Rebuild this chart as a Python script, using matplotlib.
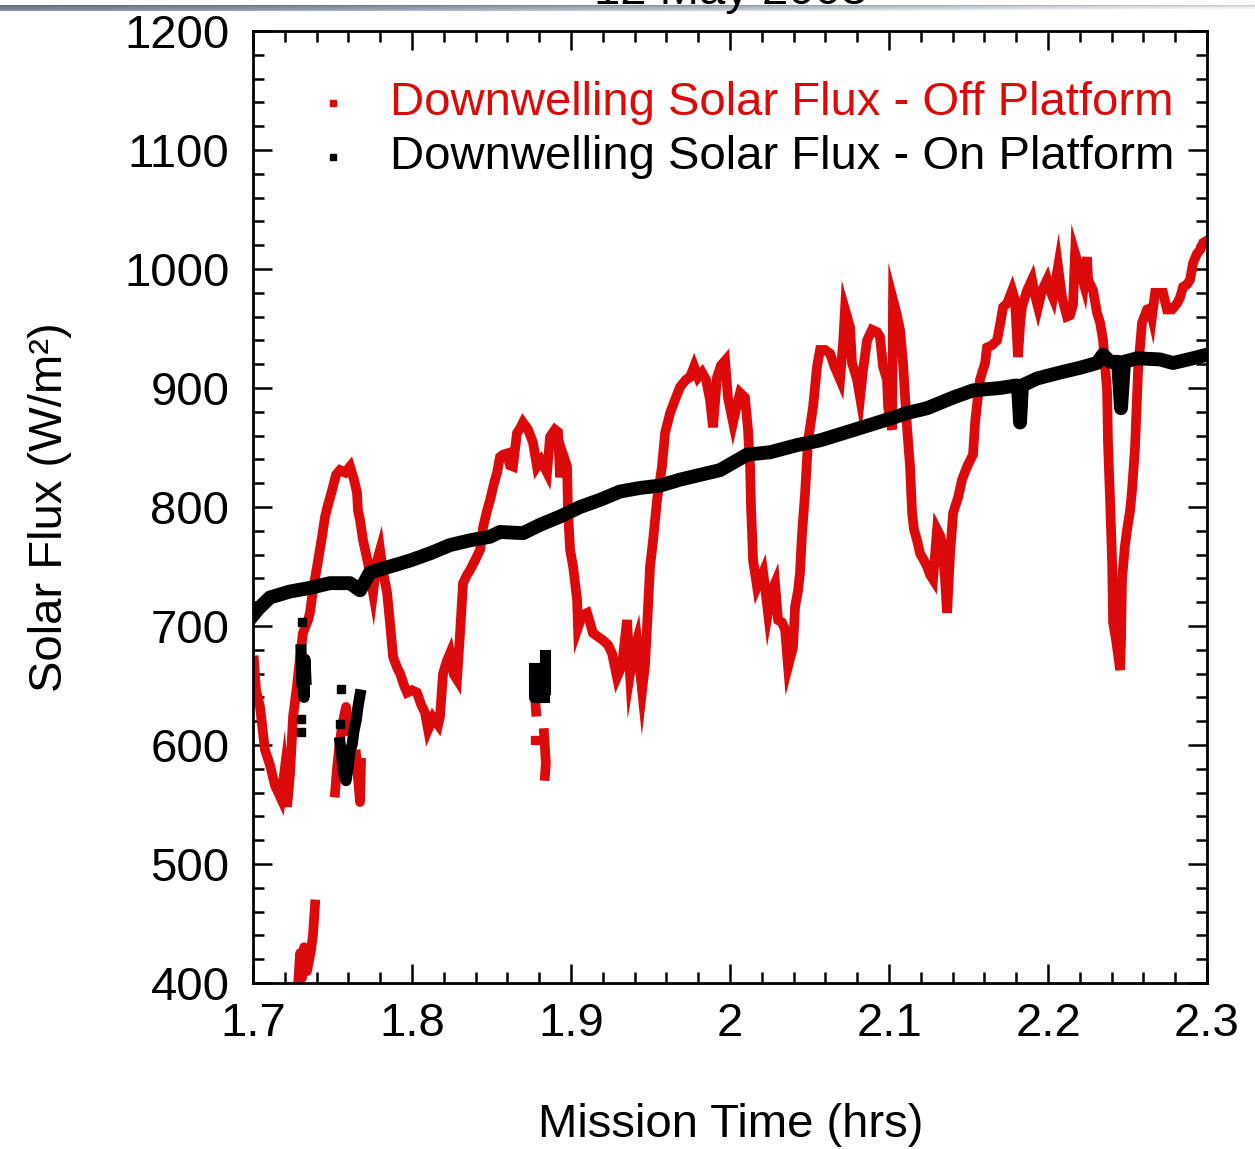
import numpy as np
import matplotlib
matplotlib.use("Agg")
import matplotlib.pyplot as plt
from matplotlib.ticker import MultipleLocator

plt.rcParams['font.family'] = ['Liberation Sans', 'DejaVu Sans']

# downwelling solar flux measured off the platform (W/m^2) vs mission time (hrs)
off_time = [1.7006, 1.7019, 1.7044, 1.7075, 1.7107, 1.7138, 1.7176, 1.7195, 1.7214, 1.7233,
            1.7252, 1.7277, 1.7296, 1.7314, 1.7346, 1.7358, 1.7377, 1.7403, 1.7434, 1.7453,
            1.7472, 1.7497, 1.7522, 1.7547, 1.7579, 1.7610, 1.7635, 1.7654, 1.7660, 1.7673,
            1.7692, 1.7723, 1.7755, 1.7780, 1.7799, 1.7818, 1.7843, 1.7862, 1.7881, 1.7906,
            1.7925, 1.7950, 1.7969, 1.8000, 1.8031, 1.8057, 1.8082, 1.8101, 1.8132, 1.8164,
            1.8176, 1.8195, 1.8220, 1.8239, 1.8264, 1.8283, 1.8302, 1.8321, 1.8346, 1.8365,
            1.8396, 1.8428, 1.8447, 1.8472, 1.8491, 1.8516, 1.8535, 1.8553, 1.8572, 1.8597,
            1.8616, 1.8635, 1.8660, 1.8679, 1.8698, 1.8730, 1.8761, 1.8786, 1.8811, 1.8849,
            1.8868, 1.8899, 1.8918, 1.8931, 1.8950, 1.8975, 1.8981, 1.8994, 1.9013, 1.9038,
            1.9044, 1.9069, 1.9101, 1.9138, 1.9170, 1.9201, 1.9233, 1.9258, 1.9289, 1.9321,
            1.9352, 1.9371, 1.9390, 1.9415, 1.9447, 1.9465, 1.9478, 1.9497, 1.9516, 1.9541,
            1.9572, 1.9591, 1.9623, 1.9654, 1.9686, 1.9723, 1.9748, 1.9774, 1.9799, 1.9824,
            1.9849, 1.9874, 1.9893, 1.9918, 1.9943, 1.9969, 1.9987, 2.0019, 2.0044, 2.0063,
            2.0094, 2.0113, 2.0126, 2.0132, 2.0145, 2.0170, 2.0189, 2.0208, 2.0226, 2.0239,
            2.0264, 2.0283, 2.0302, 2.0327, 2.0346, 2.0365, 2.0384, 2.0396, 2.0409, 2.0428,
            2.0440, 2.0453, 2.0472, 2.0491, 2.0503, 2.0522, 2.0547, 2.0566, 2.0597, 2.0629,
            2.0654, 2.0673, 2.0692, 2.0711, 2.0723, 2.0742, 2.0755, 2.0767, 2.0799, 2.0818,
            2.0836, 2.0862, 2.0893, 2.0925, 2.0943, 2.0962, 2.0987, 2.0994, 2.1019, 2.1025,
            2.1050, 2.1069, 2.1088, 2.1101, 2.1113, 2.1132, 2.1145, 2.1157, 2.1176, 2.1195,
            2.1220, 2.1239, 2.1258, 2.1277, 2.1302, 2.1321, 2.1333, 2.1352, 2.1365, 2.1384,
            2.1403, 2.1434, 2.1459, 2.1491, 2.1528, 2.1541, 2.1560, 2.1572, 2.1604, 2.1616,
            2.1648, 2.1679, 2.1698, 2.1717, 2.1742, 2.1774, 2.1792, 2.1811, 2.1824, 2.1836,
            2.1868, 2.1899, 2.1918, 2.1937, 2.1962, 2.1994, 2.2013, 2.2031, 2.2063, 2.2088,
            2.2119, 2.2138, 2.2157, 2.2170, 2.2201, 2.2226, 2.2245, 2.2252, 2.2283, 2.2308,
            2.2327, 2.2346, 2.2358, 2.2371, 2.2377, 2.2390, 2.2403, 2.2409, 2.2428, 2.2453,
            2.2459, 2.2465, 2.2484, 2.2497, 2.2516, 2.2528, 2.2547, 2.2566, 2.2579, 2.2591,
            2.2623, 2.2642, 2.2654, 2.2673, 2.2704, 2.2723, 2.2748, 2.2780, 2.2811, 2.2830,
            2.2849, 2.2874, 2.2893, 2.2912, 2.2937, 2.2956, 2.2975, 2.3000]
off_flux = [671, 646, 632, 596, 583, 566, 555, 575, 548, 576,
            624, 650, 674, 694, 705, 711, 730, 750, 775, 792,
            802, 814, 827, 831, 829, 834, 823, 812, 797, 789,
            772, 753, 728, 755, 764, 745, 728, 702, 674, 665,
            660, 650, 644, 646, 644, 634, 627, 613, 623, 617,
            624, 660, 671, 677, 659, 655, 694, 736, 743, 747,
            755, 764, 783, 797, 806, 820, 829, 842, 844, 845,
            835, 834, 862, 866, 871, 865, 854, 834, 839, 829,
            859, 865, 863, 825, 844, 834, 797, 764, 750, 722,
            699, 709, 711, 694, 691, 688, 684, 677, 657, 667,
            705, 660, 676, 688, 646, 667, 699, 750, 772, 806,
            834, 862, 879, 890, 901, 907, 909, 918, 909, 913,
            907, 890, 867, 909, 919, 923, 892, 871, 886, 896,
            892, 865, 834, 800, 755, 733, 739, 745, 726, 711,
            730, 736, 705, 703, 697, 666, 676, 682, 716, 730,
            745, 778, 812, 856, 867, 884, 918, 932, 932, 929,
            919, 913, 907, 938, 966, 957, 951, 921, 907, 892,
            915, 940, 949, 947, 943, 918, 907, 884, 865, 974,
            961, 949, 921, 892, 867, 834, 795, 781, 772, 761,
            755, 750, 743, 739, 781, 776, 770, 739, 711, 761,
            795, 808, 823, 834, 844, 871, 894, 907, 921, 934,
            936, 940, 953, 968, 971, 982, 974, 926, 953, 968,
            982, 991, 978, 968, 982, 991, 982, 976, 1002, 976,
            960, 961, 970, 1013, 999, 987, 1010, 991, 982, 963,
            955, 940, 919, 898, 854, 806, 753, 703, 688, 663,
            688, 739, 768, 781, 797, 814, 850, 915, 936, 955,
            966, 967, 960, 980, 980, 980, 966, 966, 971, 976,
            985, 987, 991, 1005, 1013, 1016, 1022, 1024]

# short off-platform pieces recorded while the sensor was moving
off_frag_times = [
    [1.7283, 1.7296, 1.7308, 1.7321, 1.7340, 1.7365, 1.7377, 1.7390],
    [1.7516, 1.7528, 1.7547, 1.7566, 1.7585, 1.7604],
    [1.7648, 1.7660, 1.7673, 1.7679],
    [1.8767, 1.8774, 1.8780],
    [1.8830, 1.8836, 1.8842, 1.8836],
]
off_frag_flux = [
    [398, 425, 404, 430, 410, 428, 440, 466],
    [560, 580, 604, 620, 632, 612],
    [592, 572, 552, 585],
    [655, 640, 628],
    [610, 597, 585, 574],
]
off_dot_time = [1.8774]
off_dot_flux = [604]

# downwelling solar flux measured on the platform
on_time = [1.7000, 1.7030, 1.7107, 1.7233, 1.7358, 1.7484, 1.7610, 1.7673, 1.7736, 1.7862,
           1.7987, 1.8113, 1.8239, 1.8365, 1.8491, 1.8553, 1.8698, 1.8805, 1.8931, 1.9057,
           1.9182, 1.9308, 1.9434, 1.9560, 1.9686, 1.9811, 1.9937, 2.0107, 2.0252, 2.0421,
           2.0566, 2.0736, 2.0881, 2.1025, 2.1113, 2.1239, 2.1403, 2.1528, 2.1698, 2.1792,
           2.1811, 2.1824, 2.1836, 2.1931, 2.2075, 2.2201, 2.2308, 2.2346, 2.2390, 2.2440,
           2.2459, 2.2478, 2.2560, 2.2704, 2.2786, 2.2912, 2.3000]
on_flux = [709, 714, 724, 729, 732, 736, 736, 730, 745, 750,
           755, 761, 768, 772, 775, 779, 778, 785, 792, 800,
           806, 813, 816, 818, 823, 827, 831, 844, 846, 852,
           856, 863, 869, 875, 879, 883, 892, 898, 900, 902,
           902, 871, 902, 908, 913, 917, 921, 928, 922, 922,
           883, 922, 925, 924, 921, 925, 928]

on_frag_times = [
    [1.7302, 1.7308, 1.7314, 1.7321, 1.7327, 1.7333],
    [1.7547, 1.7560, 1.7572, 1.7585, 1.7597, 1.7610, 1.7623, 1.7635, 1.7648, 1.7660, 1.7673],
    [1.8767, 1.8767, 1.8830],
    [1.8836, 1.8836],
]
on_frag_flux = [
    [680, 650, 668, 640, 672, 655],
    [602, 588, 575, 570, 580, 595, 600, 612, 620, 632, 642],
    [665, 640, 640],
    [647, 676],
]
on_dot_time = [1.7308, 1.7302, 1.7302, 1.7554, 1.7547]
on_dot_flux = [703, 622, 611, 647, 618]

red = '#dc0a0a'
fs = 34

fig = plt.figure(figsize=(12.55, 11.49), dpi=100)
ax = fig.add_axes([0.2016, 0.1445, 0.7602, 0.8285])

ax.plot(off_time, off_flux, color=red, lw=7, solid_joinstyle='miter', zorder=2)
for t, f in zip(off_frag_times, off_frag_flux):
    ax.plot(t, f, color=red, lw=7, zorder=2)
ax.plot(off_dot_time, off_dot_flux, 's', color=red, ms=6, zorder=2)

ax.plot(on_time, on_flux, color='black', lw=10, zorder=3)
for t, f in zip(on_frag_times, on_frag_flux):
    ax.plot(t, f, color='black', lw=8, zorder=3)
ax.plot(on_dot_time, on_dot_flux, 's', color='black', ms=6, zorder=3)

ax.set_xlim(1.7, 2.3)
ax.set_ylim(400, 1200)
ax.set_xticks([1.7, 1.8, 1.9, 2.0, 2.1, 2.2, 2.3])
ax.set_xticklabels(['1.7', '1.8', '1.9', '2', '2.1', '2.2', '2.3'])
ax.set_yticks(np.arange(400, 1201, 100))
ax.xaxis.set_minor_locator(MultipleLocator(0.02))
ax.yaxis.set_minor_locator(MultipleLocator(20))

ax.tick_params(which='both', direction='in', top=True, right=True, width=1.8, labelsize=fs)
ax.tick_params(which='major', length=14)
ax.tick_params(which='minor', length=8)
ax.tick_params(axis='x', pad=14)
ax.tick_params(axis='y', pad=17)
for s in ax.spines.values():
    s.set_linewidth(2)

ax.set_xlabel('Mission Time (hrs)', fontsize=fs)
ax.set_ylabel('Solar Flux (W/m²)', fontsize=fs)
ax.xaxis.set_label_coords(0.501, -0.149)
ax.xaxis.label.set_va('center')
ax.yaxis.set_label_coords(-0.213, 0.5)
ax.yaxis.label.set_va('center')

# legend: small square markers with coloured labels
ax.plot([0.084], [0.924], 's', color=red, ms=5, transform=ax.transAxes, clip_on=False)
ax.plot([0.084], [0.868], 's', color='black', ms=5, transform=ax.transAxes, clip_on=False)
ax.text(0.1436, 0.924, 'Downwelling Solar Flux - Off Platform', color=red, fontsize=fs,
        va='center', ha='left', transform=ax.transAxes)
ax.text(0.1436, 0.868, 'Downwelling Solar Flux - On Platform', color='black', fontsize=fs,
        va='center', ha='left', transform=ax.transAxes)

# grey rule across the top, fading to the right
bar = fig.add_axes([0, 1 - 11 / 1149, 1, 6 / 1149], zorder=-1)
cols = np.linspace(0, 1, 400)
left = np.array([112, 124, 142]) / 255
right = np.array([238, 238, 238]) / 255
row = left[None, :] * (1 - cols[:, None] ** 1.3) + right[None, :] * cols[:, None] ** 1.3
shade = np.array([0.85, 1.0, 1.0, 1.1, 1.2])[:, None, None]
img = np.clip(row[None, :, :] * shade, 0, 1)
bar.imshow(img, aspect='auto', interpolation='bilinear')
bar.axis('off')

fig.text(0.582, 1 - 4 / 1149, '12 May 2003', ha='center', va='baseline', fontsize=fs)

fig.savefig('out.png', dpi=100)
